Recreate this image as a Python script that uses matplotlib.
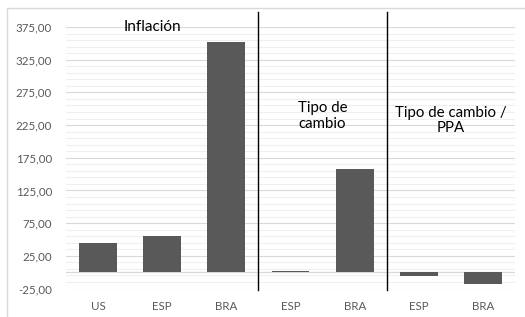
import numpy as np
import matplotlib.pyplot as plt
from matplotlib.patches import Rectangle

labels = ['US', 'ESP', 'BRA', 'ESP', 'BRA', 'ESP', 'BRA']
values = [45, 55.5, 352, 1.5, 157.5, -6, -18]
group_titles = ['Inflación', 'Tipo de\ncambio', 'Tipo de cambio /\nPPA']
group_edges = [2.5, 4.5]

plt.rcParams['font.family'] = ['Lato', 'DejaVu Sans']

fig = plt.figure(figsize=(5.25, 3.17), dpi=100)
ax = fig.add_axes([66/525, 1 - 288.5/317, 449/525, 261.5/317])

x = np.arange(len(labels))
ax.bar(x, values, width=0.59, color='#595959', zorder=3)
ax.set_xlim(-0.5, len(labels) - 0.5)
ax.set_ylim(-25, 375)
ax.set_yticks(np.arange(-25, 376, 50))
ax.set_yticks(np.arange(-25, 376, 10), minor=True)
ax.set_yticklabels([f'{v:,.2f}'.replace('.', ',') for v in np.arange(-25, 376, 50)])
ax.grid(axis='y', which='major', color='#d9d9d9', lw=0.8, zorder=0)
ax.grid(axis='y', which='minor', color='#efefef', lw=0.8, zorder=0)
ax.axhline(0, color='#d9d9d9', lw=0.9, zorder=2)
ax.set_xticks(x)
ax.set_xticklabels(labels)
ax.tick_params(axis='both', which='both', length=0, labelsize=8.3, colors='#595959')
ax.tick_params(axis='x', pad=9)
ax.tick_params(axis='y', pad=10)
for s in ax.spines.values():
    s.set_visible(False)

for e in group_edges:
    ax.plot([e, e], [-27, 398], color='black', lw=1, clip_on=False, zorder=4)

ax.text(0.85, 375, group_titles[0], ha='center', va='center', fontsize=11)
ax.text(3.5, 239, group_titles[1], ha='center', va='center', fontsize=10.8, linespacing=1.15)
ax.text(5.5, 232, group_titles[2], ha='center', va='center', fontsize=10.8, linespacing=1.15)

fig.patches.append(Rectangle((7/525, -0.01), 1, 1 - 8/317 + 0.01, transform=fig.transFigure,
                             fill=False, edgecolor='#d9d9d9', lw=1))

fig.savefig('out.png', dpi=100)
